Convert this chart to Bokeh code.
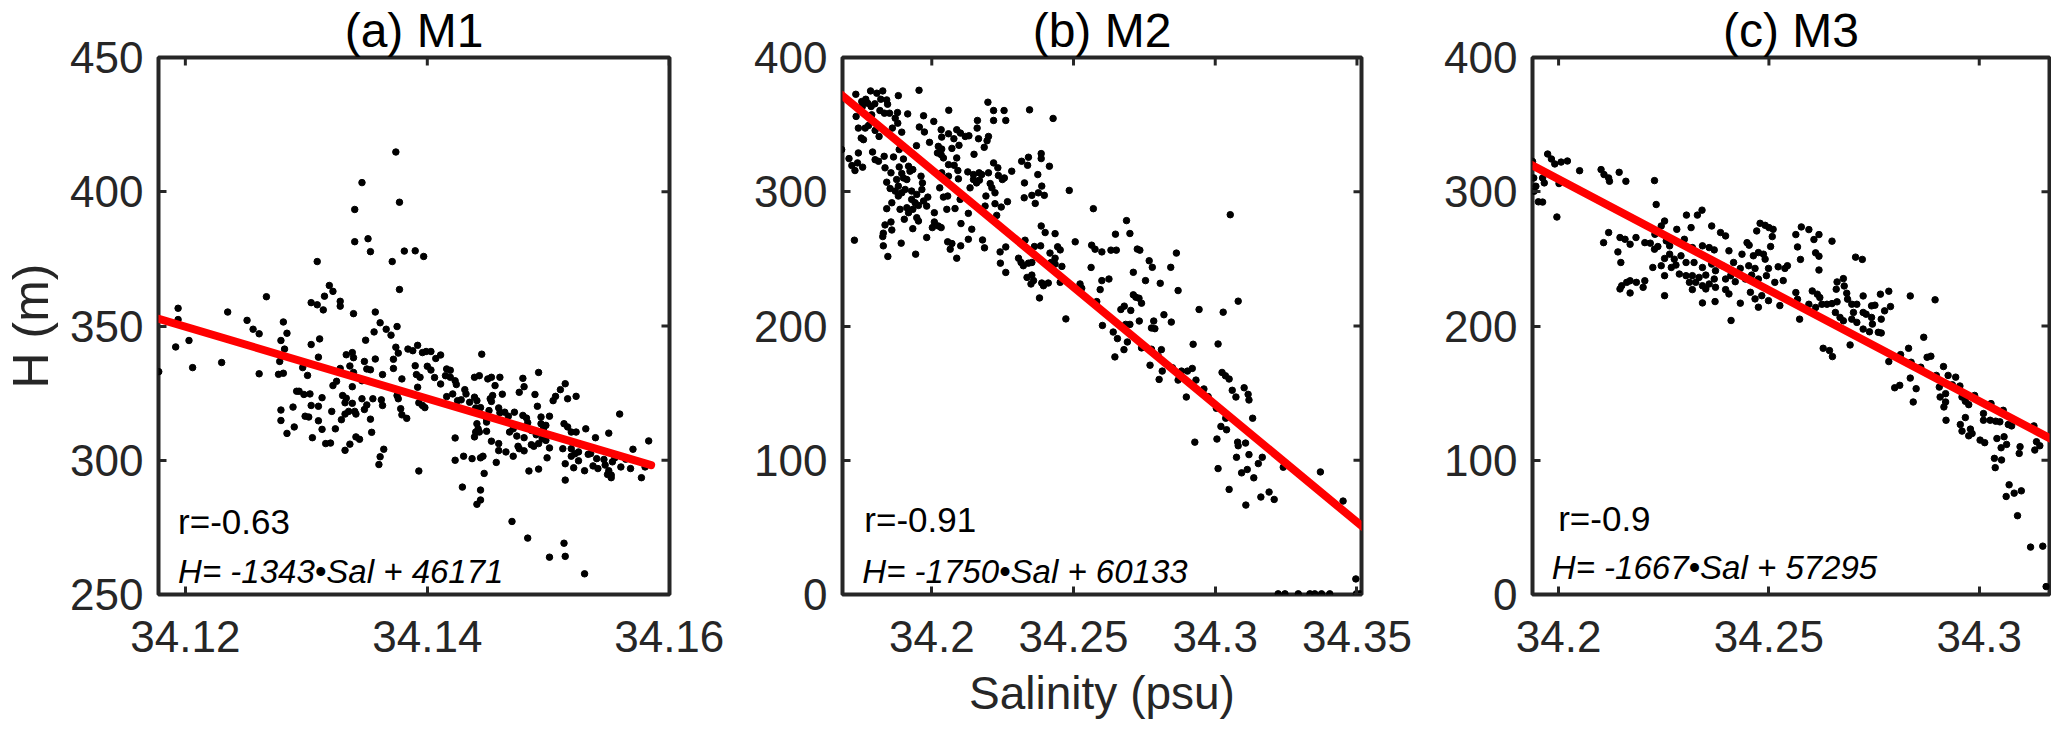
import math
from bokeh.plotting import figure
from bokeh.layouts import row
from bokeh.models import Range1d, FixedTicker, Label, CustomJSTickFormatter
from bokeh.embed import file_html
from bokeh.resources import INLINE

FONT = "Liberation Sans"
INK = "#262626"

# ---------------- data ----------------
titles = ["(a) M1", "(b) M2", "(c) M3"]
r_texts = ["r=-0.63", "r=-0.91", "r=-0.9"]
eq_texts = ["H= -1343\u2022Sal + 46171", "H= -1750\u2022Sal + 60133", "H= -1667\u2022Sal + 57295"]

xticks_a = [34.12, 34.14, 34.16]
xlabels_a = ["34.12", "34.14", "34.16"]
xticks_b = [34.2, 34.25, 34.3, 34.35]
xlabels_b = ["34.2", "34.25", "34.3", "34.35"]
xticks_c = [34.2, 34.25, 34.3]
xlabels_c = ["34.2", "34.25", "34.3"]
yticks_a = [250, 300, 350, 400, 450]
yticks_bc = [0, 100, 200, 300, 400]

# Panel (a) M1
m1_sal = [
    34.1374, 34.1346, 34.1377, 34.1340, 34.1351, 34.1353, 34.1340, 34.1381, 34.1371, 34.1309,
    34.1377, 34.1319, 34.1322, 34.1315, 34.1304, 34.1309, 34.1314, 34.1328, 34.1328, 34.1267,
    34.1339, 34.1357, 34.1194, 34.1194, 34.1235, 34.1251, 34.1256, 34.1261, 34.1281, 34.1284,
    34.1279, 34.1282, 34.1203, 34.1192, 34.1206, 34.1230, 34.1261, 34.1278, 34.1277, 34.1281,
    34.1304, 34.1311, 34.1310, 34.1297, 34.1301, 34.1361, 34.1366, 34.1356, 34.1370, 34.1375,
    34.1349, 34.1374, 34.1376, 34.1384, 34.1333, 34.1338, 34.1339, 34.1348, 34.1357, 34.1350,
    34.1353, 34.1372, 34.1372, 34.1336, 34.1328, 34.1363, 34.1339, 34.1325, 34.1322, 34.1338,
    34.1346, 34.1379, 34.1292, 34.1294, 34.1298, 34.1303, 34.1313, 34.1330, 34.1333, 34.1332,
    34.1338, 34.1346, 34.1355, 34.1350, 34.1362, 34.1363, 34.1375, 34.1376, 34.1378, 34.1379,
    34.1383, 34.1279, 34.1289, 34.1304, 34.1310, 34.1279, 34.1299, 34.1302, 34.1310, 34.1313,
    34.1321, 34.1329, 34.1332, 34.1335, 34.1340, 34.1341, 34.1348, 34.1353, 34.1290, 34.1284,
    34.1324, 34.1305, 34.1316, 34.1320, 34.1332, 34.1336, 34.1341, 34.1344, 34.1354, 34.1364,
    34.1361, 34.1360, 34.1178,
    34.1390, 34.1397, 34.1392, 34.1388, 34.1396, 34.1399, 34.1403, 34.1411, 34.1407, 34.1390,
    34.1400, 34.1403, 34.1391, 34.1394, 34.1406, 34.1416, 34.1419, 34.1415, 34.1419, 34.1423,
    34.1411, 34.1392, 34.1445, 34.1439, 34.1443, 34.1450, 34.1453, 34.1460, 34.1456, 34.1424,
    34.1431, 34.1432, 34.1421, 34.1416, 34.1425, 34.1428, 34.1435, 34.1439, 34.1441, 34.1452,
    34.1454, 34.1462, 34.1453, 34.1393, 34.1396, 34.1398, 34.1440, 34.1444, 34.1451, 34.1459,
    34.1460, 34.1464, 34.1467, 34.1472, 34.1476, 34.1479, 34.1480, 34.1489, 34.1492, 34.1491,
    34.1504, 34.1506, 34.1510, 34.1514, 34.1516, 34.1523, 34.1494, 34.1501, 34.1479, 34.1482,
    34.1449, 34.1449, 34.1441, 34.1442, 34.1440, 34.1443, 34.1439, 34.1449, 34.1468, 34.1471,
    34.1474, 34.1480, 34.1483, 34.1486, 34.1490, 34.1494, 34.1496, 34.1498, 34.1497, 34.1495,
    34.1498, 34.1453, 34.1459, 34.1459, 34.1465, 34.1475, 34.1476, 34.1480, 34.1486, 34.1488,
    34.1492, 34.1501, 34.1471, 34.1499, 34.1423, 34.1423, 34.1430, 34.1437, 34.1444, 34.1446,
    34.1457, 34.1447, 34.1393, 34.1429, 34.1444, 34.1444, 34.1441, 34.1470, 34.1484, 34.1492,
    34.1483, 34.1512, 34.1513, 34.1516, 34.1519, 34.1523, 34.1531, 34.1539, 34.1550, 34.1559,
    34.1583, 34.1570, 34.1519, 34.1519, 34.1522, 34.1525, 34.1514, 34.1521, 34.1525, 34.1530,
    34.1533, 34.1535, 34.1537, 34.1540, 34.1541, 34.1546, 34.1547, 34.1550, 34.1552, 34.1553,
    34.1555, 34.1560, 34.1564, 34.1568, 34.1577, 34.1580, 34.1514, 34.1549, 34.1552,
    34.1501, 34.1513, 34.1514, 34.1530,
]
m1_h = [
    414.8, 403.4, 396.1, 393.4, 382.5, 377.7, 381.4, 377.9, 374.0, 374.0,
    363.6, 365.1, 362.9, 361.1, 358.7, 357.9, 356.0, 359.2, 357.4, 360.9,
    354.6, 355.2, 356.6, 352.4, 355.2, 352.1, 348.8, 347.1, 351.5, 347.3,
    344.6, 341.4, 344.6, 342.2, 334.5, 336.4, 332.2, 336.8, 332.0, 332.4,
    343.1, 345.2, 338.4, 334.5, 331.6, 351.2, 348.8, 347.8, 346.6, 349.8,
    344.7, 342.1, 339.9, 341.4, 339.3, 340.1, 338.2, 336.8, 337.7, 334.0,
    333.7, 337.6, 334.2, 335.1, 334.2, 331.9, 332.7, 329.4, 327.8, 327.4,
    329.6, 330.3, 325.7, 325.7, 324.5, 324.7, 323.3, 324.1, 323.1, 321.4,
    321.2, 322.9, 322.9, 320.6, 322.5, 320.4, 324.1, 322.9, 319.2, 316.9,
    315.6, 318.7, 319.8, 320.4, 320.1, 314.8, 316.4, 316.1, 314.7, 311.5,
    318.2, 315.1, 317.2, 318.2, 318.2, 317.2, 318.9, 315.3, 312.4, 310.0,
    311.7, 308.4, 306.2, 306.4, 303.7, 306.0, 308.7, 307.8, 310.4, 304.1,
    301.3, 298.4, 333.0,
    378.0, 375.9, 342.8, 340.8, 340.1, 340.5, 340.5, 339.2, 337.9, 335.2,
    335.0, 333.6, 331.9, 330.9, 330.8, 334.0, 333.5, 331.5, 330.9, 329.6,
    328.4, 327.2, 339.5, 330.9, 331.5, 330.3, 330.9, 330.9, 327.8, 328.2,
    326.3, 324.7, 324.7, 323.7, 322.2, 322.5, 321.6, 323.5, 322.2, 322.9,
    324.1, 324.6, 321.9, 321.4, 320.4, 319.6, 319.5, 319.6, 318.5, 319.5,
    317.7, 317.9, 316.4, 317.9, 325.3, 330.5, 327.4, 324.5, 332.7, 320.1,
    322.2, 323.8, 326.3, 328.5, 322.9, 323.8, 316.1, 316.4, 316.7, 315.7,
    315.4, 314.2, 313.6, 311.7, 310.5, 310.5, 308.7, 310.8, 310.5, 311.7,
    309.0, 308.4, 314.0, 311.1, 309.5, 313.6, 311.7, 313.0, 309.9, 308.0,
    307.4, 307.1, 306.2, 303.6, 303.1, 305.2, 304.3, 303.5, 305.8, 305.2,
    306.2, 304.6, 301.5, 300.9, 308.3, 300.0, 301.5, 300.6, 300.9, 301.5,
    299.2, 295.1, 296.0, 290.0, 288.9, 285.2, 283.6, 277.2, 296.0, 296.7,
    271.0, 304.3, 313.6, 312.4, 310.5, 310.5, 311.7, 308.4, 310.1, 317.2,
    307.2, 304.1, 304.3, 301.5, 302.4, 303.1, 298.7, 297.2, 299.8, 296.1,
    302.2, 302.5, 297.9, 300.6, 296.9, 300.3, 298.2, 296.1, 293.5, 299.4,
    300.9, 297.5, 300.4, 296.9, 293.5, 297.5, 292.6, 294.7, 294.5,
    263.9, 269.1, 264.2, 257.7,
]

# Panel (b) M2
m2_sal = [
    34.1732, 34.1784, 34.1806, 34.1827, 34.1820, 34.1841, 34.1882, 34.1955, 34.1753, 34.1767,
    34.1774, 34.1755, 34.1786, 34.1799, 34.1817, 34.1833, 34.1851, 34.1844, 34.1879, 34.1915,
    34.1971, 34.2060, 34.2198, 34.2218, 34.2255, 34.2345, 34.2428, 34.2218, 34.2261, 34.1733,
    34.1788, 34.1871, 34.1880, 34.1861, 34.1894, 34.1956, 34.2007, 34.1974, 34.2033, 34.2035,
    34.2059, 34.2088, 34.2101, 34.2118, 34.2131, 34.2078, 34.2161, 34.2160, 34.2165, 34.2200,
    34.2195, 34.2185, 34.1741, 34.1765, 34.1777, 34.1814, 34.1751, 34.1759, 34.1800, 34.1992,
    34.1946, 34.2023, 34.2035, 34.2020, 34.2033, 34.2041, 34.2071, 34.2096, 34.2088, 34.2079,
    34.2059, 34.2092, 34.2149, 34.1682, 34.1708, 34.1741, 34.1791, 34.1832, 34.1865, 34.1885,
    34.1900, 34.1812, 34.1800, 34.1718, 34.1729, 34.1756, 34.1835, 34.1738, 34.1856, 34.1885,
    34.1894, 34.1918, 34.1923, 34.1933, 34.1876, 34.1900, 34.1912, 34.1882, 34.1841, 34.1853,
    34.1871, 34.1894, 34.1906, 34.1929, 34.1947, 34.1965, 34.1962, 34.1967, 34.1986, 34.1929,
    34.1941, 34.1953, 34.1982, 34.1971, 34.1882, 34.1859, 34.1841, 34.1888, 34.1912, 34.1933,
    34.1947, 34.1918, 34.1903, 34.1953, 34.1933, 34.1856, 34.1835, 34.1859, 34.1829, 34.1827,
    34.1829, 34.1845, 34.1892, 34.1943, 34.1982, 34.2002, 34.2009, 34.2009, 34.2023, 34.2033,
    34.2041, 34.2056, 34.2053, 34.2082, 34.2100, 34.2028, 34.2059, 34.2035, 34.2094, 34.2127,
    34.2147, 34.2167, 34.2176, 34.2147, 34.2158, 34.2168, 34.2135, 34.2200, 34.2218, 34.2233,
    34.2235, 34.2249, 34.2256, 34.2206, 34.2212, 34.2223, 34.2191,
    34.2188, 34.2223, 34.2245, 34.2267, 34.2229, 34.2129, 34.2103, 34.2141, 34.2129, 34.2056,
    34.2071, 34.2065, 34.2102, 34.2088, 34.2179, 34.2186, 34.1727, 34.2282, 34.2317, 34.2341,
    34.2338, 34.2386, 34.2386, 34.2415, 34.2374, 34.2327, 34.2388, 34.2376, 34.2397, 34.2353,
    34.2365, 34.2326, 34.2485, 34.2570, 34.2386, 34.2400, 34.2435, 34.2506, 34.2329, 34.2362,
    34.2384, 34.2417, 34.2435, 34.2444, 34.2453, 34.2421, 34.2435, 34.2459, 34.2241, 34.2261,
    34.2306, 34.2315, 34.2323, 34.2242, 34.2261, 34.2341, 34.2353, 34.2336, 34.2353, 34.2359,
    34.2350, 34.2388, 34.2394, 34.2411, 34.2380, 34.2453, 34.2523, 34.2529, 34.2473, 34.2562,
    34.2564, 34.2576, 34.2600, 34.2600, 34.2594, 34.2582, 34.2602,
    34.2687, 34.2699, 34.2648, 34.2632, 34.2651, 34.2725, 34.2734, 34.2767, 34.2778, 34.2843,
    34.2863, 34.2711, 34.2625, 34.2754, 34.2806, 34.2869, 34.3053, 34.2711, 34.2720, 34.2731,
    34.2740, 34.2679, 34.2667, 34.2702, 34.2943, 34.3081, 34.3028, 34.2819, 34.2845, 34.2732,
    34.2783, 34.2684, 34.2699, 34.2775, 34.2787, 34.2640, 34.2655, 34.2690, 34.2646, 34.2678,
    34.2740, 34.2775, 34.2810, 34.2799, 34.2770, 34.2813, 34.2802, 34.2849, 34.2881, 34.2902,
    34.2919, 34.2869, 34.2932, 34.2898, 34.2922, 34.3010, 34.2960, 34.2975, 34.3004, 34.3024,
    34.3036, 34.3049, 34.3060, 34.3073, 34.3102, 34.3116, 34.3119, 34.3037, 34.3020, 34.3040,
    34.3132, 34.3006, 34.2928, 34.3079, 34.3081, 34.3107, 34.3075, 34.3119, 34.3152, 34.3166,
    34.3240, 34.3010, 34.3093, 34.3113, 34.3136, 34.3049, 34.3108, 34.3161, 34.3190, 34.3208,
    34.3371, 34.3451, 34.3496,
    34.3222, 34.3246, 34.3293, 34.3334, 34.3351, 34.3375, 34.3404, 34.3498, 34.3510,
]
m2_h = [
    372.6, 375.1, 373.4, 375.1, 368.9, 368.4, 371.6, 375.6, 367.2, 368.9,
    365.9, 363.5, 363.5, 365.5, 360.5, 358.5, 358.5, 365.2, 359.0, 358.0,
    356.6, 360.7, 366.7, 360.5, 360.5, 361.0, 354.6, 353.1, 353.1, 356.1,
    357.3, 354.8, 351.1, 347.4, 344.4, 348.2, 352.4, 344.5, 346.2, 340.7,
    343.2, 346.2, 343.7, 341.2, 341.7, 339.5, 353.1, 347.4, 339.5, 341.2,
    338.0, 333.1, 347.4, 347.4, 349.4, 341.2, 340.0, 338.8, 345.7, 336.8,
    334.3, 333.8, 331.8, 328.9, 327.6, 325.2, 332.3, 334.6, 325.2, 319.7,
    320.2, 315.8, 327.9, 331.4, 324.7, 328.9, 329.6, 326.4, 325.9, 331.4,
    324.4, 322.7, 323.9, 319.5, 315.8, 318.3, 317.8, 321.5, 314.1, 318.5,
    313.6, 319.0, 315.3, 316.5, 309.1, 310.3, 309.1, 304.2, 307.1, 302.4,
    300.5, 299.2, 301.7, 300.5, 298.0, 301.7, 311.6, 306.6, 296.0, 294.3,
    291.8, 289.8, 289.3, 293.1, 296.8, 291.8, 287.4, 286.9, 288.1, 286.9,
    280.7, 284.4, 279.5, 278.2, 272.5, 277.5, 275.3, 271.5, 269.1, 266.6,
    259.7, 251.8, 261.7, 253.5, 265.9, 273.3, 277.5, 284.4, 274.5, 273.3,
    296.0, 296.8, 286.9, 287.5, 294.3, 302.9, 311.6, 314.1, 309.6, 314.8,
    312.8, 314.1, 312.8, 309.1, 306.6, 308.6, 302.9, 314.1, 321.5, 317.8,
    312.1, 309.1, 310.3, 306.1, 302.9, 299.2, 296.8,
    289.3, 291.1, 288.6, 292.6, 282.4, 283.9, 276.3, 272.1, 264.6, 262.7,
    261.4, 257.2, 259.7, 250.5, 264.1, 258.2, 263.9, 315.3, 322.7, 325.7,
    319.7, 328.4, 324.7, 319.0, 312.8, 306.6, 304.2, 299.2, 297.3, 297.3,
    291.3, 295.5, 301.0, 287.4, 274.5, 269.6, 268.8, 262.7, 263.9, 259.2,
    259.7, 254.3, 250.5, 259.0, 256.7, 247.3, 246.1, 244.4, 255.2, 258.9,
    250.5, 247.3, 244.9, 246.8, 239.9, 246.8, 247.3, 236.2, 237.9, 233.8,
    231.3, 232.0, 230.0, 232.0, 220.9, 232.5, 231.3, 228.1, 205.3, 243.6,
    260.2, 257.2, 255.2, 233.8, 227.1, 218.2, 200.4,
    278.5, 268.9, 268.4, 256.5, 256.5, 257.3, 256.5, 248.6, 243.7, 243.7,
    254.3, 240.0, 235.0, 233.8, 231.8, 226.4, 282.9, 223.2, 221.4, 220.7,
    217.0, 214.8, 212.3, 211.6, 212.3, 218.5, 210.3, 208.4, 202.9, 203.7,
    203.7, 201.2, 201.2, 198.5, 198.0, 195.5, 190.6, 188.1, 177.0, 182.4,
    183.7, 182.7, 182.4, 177.5, 170.8, 166.4, 160.2, 168.9, 166.4, 166.4,
    168.4, 159.7, 159.7, 147.1, 186.4, 186.6, 153.1, 147.4, 138.7, 165.4,
    162.9, 160.5, 152.1, 147.1, 154.0, 149.1, 144.9, 131.3, 125.2, 122.7,
    131.3, 115.8, 113.5, 113.5, 110.8, 112.8, 102.2, 104.2, 97.5, 102.2,
    94.8, 93.8, 90.6, 93.1, 86.9, 78.3, 66.6, 72.6, 76.3, 70.8,
    91.3, 69.6, 11.6,
    0.5, 0.5, 0.5, 0.5, 0.5, 0.5, 0.5, 0.5, 0.5,
]

# Panel (c) M3
m3_sal = [
    34.1974, 34.1983, 34.1991, 34.2006, 34.2021, 34.1938, 34.1941, 34.1962, 34.1966, 34.1946,
    34.1942, 34.1952, 34.1962, 34.2001, 34.1996, 34.2050, 34.2101, 34.2108, 34.2119, 34.2121,
    34.2144, 34.2160, 34.2228, 34.2232, 34.2304, 34.2330, 34.2341, 34.2252, 34.2244, 34.2281,
    34.2315, 34.2364, 34.2385, 34.2397, 34.2471, 34.2479, 34.2491, 34.2500, 34.2510, 34.2508,
    34.2119, 34.2146, 34.2158, 34.2170, 34.2184, 34.2107, 34.2205, 34.2218, 34.2229, 34.2236,
    34.2141, 34.2148, 34.2228, 34.2256, 34.2264, 34.2299, 34.2318, 34.2342, 34.2358, 34.2370,
    34.2405, 34.2448, 34.2453, 34.2504, 34.2436, 34.2463, 34.2475, 34.2487, 34.2491, 34.2522,
    34.2538, 34.2544, 34.2264, 34.2252, 34.2275, 34.2291, 34.2244, 34.2224, 34.2268, 34.2279,
    34.2303, 34.2322, 34.2342, 34.2364, 34.2373, 34.2389, 34.2416, 34.2432, 34.2452, 34.2467,
    34.2499, 34.2287, 34.2303, 34.2318, 34.2334, 34.2350, 34.2370, 34.2311, 34.2326, 34.2342,
    34.2358, 34.2397, 34.2409, 34.2420, 34.2444, 34.2459, 34.2475, 34.2494, 34.2514, 34.2534,
    34.2252, 34.2318, 34.2350, 34.2373, 34.2397, 34.2405, 34.2456, 34.2467, 34.2483, 34.2499,
    34.2526, 34.2475, 34.2432, 34.2372, 34.2342, 34.2410, 34.2252, 34.2146, 34.2150, 34.2162,
    34.2170, 34.2185, 34.2205, 34.2201, 34.2170,
    34.2577, 34.2595, 34.2564, 34.2607, 34.2619, 34.2650, 34.2568, 34.2611, 34.2619, 34.2575,
    34.2619, 34.2706, 34.2722, 34.2564, 34.2568, 34.2603, 34.2615, 34.2621, 34.2595, 34.2611,
    34.2626, 34.2638, 34.2650, 34.2662, 34.2660, 34.2662, 34.2677, 34.2679, 34.2685, 34.2687,
    34.2697, 34.2709, 34.2724, 34.2744, 34.2752, 34.2765, 34.2785, 34.2789, 34.2775, 34.2658,
    34.2669, 34.2677, 34.2701, 34.2697, 34.2709, 34.2724, 34.2731, 34.2744, 34.2746, 34.2724,
    34.2739, 34.2760, 34.2767, 34.2767, 34.2573, 34.2693, 34.2629, 34.2644, 34.2651, 34.2836,
    34.2895, 34.2868, 34.2832, 34.2813, 34.2785, 34.2876, 34.2885, 34.2838, 34.2861, 34.2836,
    34.2799, 34.2811, 34.2850, 34.2843, 34.2898, 34.2915, 34.2926, 34.2944, 34.2905, 34.2907,
    34.2920, 34.2936, 34.2954, 34.2920, 34.2916, 34.2921, 34.2959, 34.2967, 34.2975, 34.2989,
    34.2967, 34.2955, 34.2959, 34.2979, 34.2983, 34.2975, 34.3002, 34.3013, 34.3010, 34.3010,
    34.3028, 34.3026, 34.3039, 34.3049, 34.3057, 34.3069, 34.3077, 34.3042, 34.3052, 34.3065,
    34.3059, 34.3097, 34.3095, 34.3130, 34.3136, 34.3132, 34.3144, 34.3036, 34.3053, 34.3038,
    34.3071, 34.3064, 34.3083, 34.3100, 34.3091, 34.3122, 34.3151, 34.3159,
]
m3_h = [
    328.1, 324.4, 320.7, 322.1, 322.9, 322.6, 310.3, 310.3, 306.6, 304.1,
    300.4, 292.5, 292.3, 306.1, 281.2, 315.7, 316.5, 312.8, 310.3, 307.8,
    314.5, 307.8, 308.3, 290.5, 282.6, 282.6, 286.3, 278.2, 274.5, 272.0,
    273.3, 274.5, 269.6, 267.1, 270.8, 276.5, 275.0, 273.3, 272.0, 266.6,
    269.6, 265.9, 264.6, 260.9, 265.9, 262.1, 262.1, 261.7, 268.3, 259.2,
    255.2, 247.3, 257.2, 263.4, 259.7, 264.6, 258.4, 259.7, 258.4, 256.7,
    256.0, 262.1, 260.2, 259.2, 253.5, 252.3, 254.7, 253.5, 249.8, 244.1,
    242.9, 244.9, 253.5, 250.3, 249.8, 252.3, 244.9, 243.6, 243.6, 245.4,
    247.3, 247.3, 243.6, 246.1, 241.2, 244.9, 247.3, 242.9, 244.9, 242.9,
    242.9, 238.7, 237.5, 237.5, 236.2, 237.9, 235.0, 232.5, 232.5, 230.0,
    231.3, 235.0, 237.5, 233.0, 235.0, 237.9, 235.0, 237.5, 232.5, 233.8,
    237.5, 227.1, 227.6, 228.8, 227.1, 223.9, 225.1, 220.2, 222.6, 218.9,
    215.2, 214.0, 217.0, 218.2, 217.2, 204.1, 222.6, 227.6, 230.0, 232.5,
    233.7, 232.5, 233.7, 228.8, 224.6,
    273.8, 271.8, 268.1, 264.4, 268.1, 263.2, 258.9, 254.5, 252.0, 249.6,
    241.7, 251.3, 249.6, 224.9, 219.9, 226.1, 223.7, 221.2, 216.2, 213.8,
    216.2, 216.2, 216.7, 218.0, 227.4, 232.8, 235.3, 229.8, 224.4, 220.0,
    216.2, 216.2, 222.4, 215.0, 215.5, 223.7, 225.9, 214.5, 211.3, 210.1,
    206.4, 203.9, 210.1, 205.1, 202.7, 210.1, 208.8, 206.4, 201.4, 197.7,
    195.7, 195.3, 194.8, 205.1, 205.1, 185.9, 183.4, 181.7, 177.2, 222.4,
    219.5, 191.6, 183.4, 178.7, 173.5, 176.7, 177.5, 173.0, 169.3, 161.2,
    154.0, 155.8, 153.3, 143.4, 163.2, 169.8, 163.2, 161.9, 154.5, 147.1,
    149.6, 156.2, 155.3, 143.4, 139.7, 129.8, 147.1, 143.9, 141.4, 148.3,
    131.8, 126.6, 121.7, 123.2, 119.9, 118.2, 115.0, 113.1, 134.8, 129.8,
    142.2, 129.8, 129.1, 128.6, 137.2, 126.6, 125.6, 116.2, 109.3, 111.8,
    117.5, 110.1, 105.1, 125.6, 113.8, 107.6, 110.8, 101.4, 100.2, 94.5,
    81.7, 73.0, 75.5, 77.2, 58.7, 35.3, 36.0, 5.9,
]

# regression lines (end points)
m1_fit_sal = [34.1178, 34.1585]
m1_fit_h = [352.7, 298.2]
m2_fit_sal = [34.1682, 34.3523]
m2_fit_h = [372.1, 49.9]
m3_fit_sal = [34.1934, 34.3176]
m3_fit_h = [320.2, 115.0]

# ---------------- layout / style ----------------
H_FIG = 721
TOP = 57
BOTTOM = 124

fmt = CustomJSTickFormatter(code="return tick.toString();")


def style_axis(ax, ticks, labels, standoff):
    ax.ticker = FixedTicker(ticks=ticks)
    ax.formatter = fmt
    ax.major_label_overrides = {t: l for t, l in zip(ticks, labels)}
    ax.axis_line_color = None
    ax.major_tick_in = 8
    ax.major_tick_out = 0
    ax.major_tick_line_color = INK
    ax.major_tick_line_width = 3
    ax.minor_tick_line_color = None
    ax.major_label_text_font = FONT
    ax.major_label_text_color = INK
    ax.major_label_standoff = standoff
    ax.major_label_text_font_size = "44px"


def make_panel(sal, h, fit_sal, fit_h, xr, yr, xticks, xlabels, yticks,
               title, rtxt, eqtxt, rpos, eqpos, width, bl, br,
               ylabel=None, xlabel=None):
    p = figure(width=width, height=H_FIG, x_range=Range1d(*xr), y_range=Range1d(*yr),
               output_backend="svg", toolbar_location=None, title=title,
               min_border_left=bl, min_border_right=br,
               min_border_top=TOP, min_border_bottom=BOTTOM)
    p.grid.visible = False
    p.outline_line_color = INK
    p.outline_line_width = 4
    p.background_fill_color = "white"
    p.border_fill_color = "white"

    p.title.align = "center"
    p.title.text_font = FONT
    p.title.text_font_size = "48px"
    p.title.text_font_style = "normal"
    p.title.text_color = "black"
    p.title.standoff = 2

    xa = p.below[0]
    ya = p.left[0]
    style_axis(xa, xticks, xlabels, 26)
    style_axis(ya, yticks, [str(t) for t in yticks], 15)

    if ylabel:
        ya.axis_label = ylabel
        ya.axis_label_text_font = FONT
        ya.axis_label_text_font_size = "50px"
        ya.axis_label_text_font_style = "normal"
        ya.axis_label_text_color = INK
        ya.axis_label_standoff = 8
    if xlabel:
        xa.axis_label = xlabel
        xa.axis_label_text_font = FONT
        xa.axis_label_text_font_size = "46px"
        xa.axis_label_text_font_style = "normal"
        xa.axis_label_text_color = INK
        xa.axis_label_standoff = 12

    p.scatter(sal, h, size=6.5, color="black", marker="circle")
    p.line(fit_sal, fit_h, line_width=8, color="#ff0000", line_cap="round")

    # inward tick marks on the top and right edges of the box (half clipped by the frame)
    p.scatter(xticks, [yr[1]] * len(xticks), marker="dash", angle=math.pi / 2, size=16,
              line_color=INK, line_width=3)
    p.scatter([xr[1]] * len(yticks), yticks, marker="dash", size=16,
              line_color=INK, line_width=3)

    p.add_layout(Label(x=rpos[0], y=rpos[1], text=rtxt, text_align="left",
                       text_baseline="alphabetic", text_font=FONT,
                       text_font_size="35px", text_color="black"))
    p.add_layout(Label(x=eqpos[0], y=eqpos[1], text=eqtxt, text_align="left",
                       text_baseline="alphabetic", text_font=FONT,
                       text_font_size="33px", text_font_style="italic",
                       text_color="black"))
    return p


pa = make_panel(m1_sal, m1_h, m1_fit_sal, m1_fit_h, (34.11778, 34.16002), (250, 450),
                xticks_a, xlabels_a, yticks_a, titles[0], r_texts[0], eq_texts[0],
                (34.1194, 277.2), (34.1194, 258.7), 729, 151, 60, ylabel="H (m)")
pb = make_panel(m2_sal, m2_h, m2_fit_sal, m2_fit_h, (34.1685, 34.3516), (0, 400),
                xticks_b, xlabels_b, yticks_bc, titles[1], r_texts[1], eq_texts[1],
                (34.1762, 55.6), (34.1755, 17.4), 692, 113, 60, xlabel="Salinity (psu)")
pc = make_panel(m3_sal, m3_h, m3_fit_sal, m3_fit_h, (34.1938, 34.3167), (0, 400),
                xticks_c, xlabels_c, yticks_bc, titles[2], r_texts[2], eq_texts[2],
                (34.1999, 56.5), (34.1984, 19.9), 630, 111, 2)

layout = row(pa, pb, pc)
open("out.html", "w").write(file_html(layout, INLINE))
